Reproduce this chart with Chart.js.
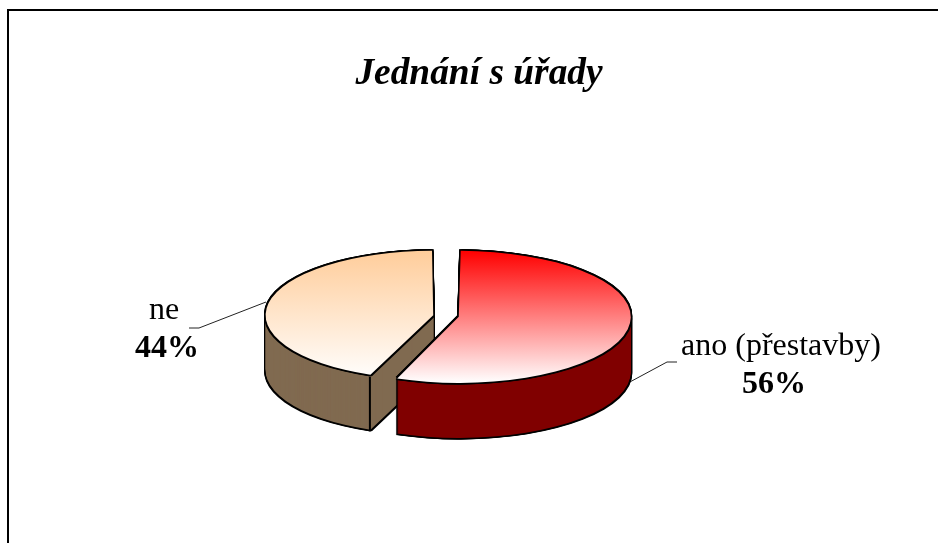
<!DOCTYPE html>
<html><head><meta charset="utf-8">
<style>html,body{margin:0;padding:0;background:#fff;overflow:hidden}
#wrap{position:absolute;left:0;top:0;width:938px;height:543px;overflow:hidden}
#frame{position:absolute;left:7px;top:9px;width:960px;height:560px;border:2px solid #000;box-sizing:border-box}
canvas{position:absolute;left:0;top:0}</style>
<script src="https://cdn.jsdelivr.net/npm/chart.js@4"></script>
</head><body>
<div id="wrap"><div id="frame"></div><canvas id="c" width="938" height="543"></canvas></div>
<script>
const titleText = 'Jednání s úřady';
const categories = ['ano (přestavby)', 'ne'];
const values = [56, 44];
const topColors = ['#ff0000', '#ffcc99'];
const sideColors = ['#800000', '#806a50'];
const SERIF = '"Liberation Serif","Times New Roman",serif';

const TILT = 0.384, DEPTH = 55, OFFSET = 12, RADIUS = 160, CY = 316;
const sliceCX = [447, 445];
const labelPos = [{x:781,bx:774,y1:347,y2:385,line:[[628,383],[667,362],[677,362]]},
                  {x:164,bx:167,y1:311,y2:349,line:[[266,302],[199,328],[189,328]]}];

function project(ctx, arc, i, dx, dy){
  ctx.translate(sliceCX[i] + dx, CY + dy);
  ctx.scale(1, TILT);
  ctx.translate(-arc.x, -arc.y);
}
function withOpts(arc, over, fn){
  const o = arc.options;
  arc.options = {
    offset:o.offset, spacing:o.spacing, angle:o.angle, borderRadius:o.borderRadius,
    borderAlign:o.borderAlign, borderWidth:0, borderColor:o.borderColor,
    borderJoinStyle:o.borderJoinStyle, circular:o.circular, backgroundColor:o.backgroundColor,
    borderDash:o.borderDash, borderDashOffset:o.borderDashOffset, selfJoin:o.selfJoin, ...over};
  fn();
  arc.options = o;
}
function stamp(ctx, arc, i, color, dx, dy){
  ctx.save(); project(ctx,arc,i,dx,dy);
  withOpts(arc,{backgroundColor:color},()=>arc.draw(ctx));
  ctx.restore();
}
const E = 1.5;
const pie3d = {
  id:'pie3d',
  beforeDatasetDraw(chart, args){
    const ctx = chart.ctx, arcs = args.meta.data;
    ctx.save();
    categories.forEach((name,i)=>{
      ctx.strokeStyle='#222';ctx.lineWidth=1;ctx.beginPath();
      labelPos[i].line.forEach((p,k)=>k?ctx.lineTo(p[0],p[1]):ctx.moveTo(p[0],p[1]));
      ctx.stroke();
    });
    ctx.restore();
    [1,0].forEach(i=>{
      const arc = arcs[i];
      for(let d=DEPTH+E;d>=-E;d-=1){
        stamp(ctx,arc,i,'#000',-E,d); stamp(ctx,arc,i,'#000',E,d);
      }
      stamp(ctx,arc,i,'#000',0,DEPTH+E);
      for(let d=DEPTH;d>=0;d-=1){ stamp(ctx,arc,i,sideColors[i],0,d); }
      if(i===1){
        const b = arc.startAngle, mid=(arc.startAngle+arc.endAngle)/2;
        const r = arc.outerRadius + OFFSET;
        const px = sliceCX[i] + Math.cos(mid)*OFFSET + Math.cos(b)*r;
        const py = CY + (Math.sin(mid)*OFFSET + Math.sin(b)*r)*TILT;
        ctx.save();ctx.strokeStyle='#000';ctx.lineWidth=2;ctx.beginPath();
        ctx.moveTo(px,py);ctx.lineTo(px,py+DEPTH);ctx.stroke();ctx.restore();
      }
      [[-E,-E],[E,-E],[-E,E],[E,E],[0,E],[0,-E]].forEach(p=>stamp(ctx,arc,i,'#000',p[0],p[1]));
      // top face of each slice is painted here, through the same arc element
      ctx.save(); project(ctx,arc,i,0,0); withOpts(arc,{},()=>arc.draw(ctx)); ctx.restore();
    });
    return false;
  },
  afterDatasetsDraw(chart){
    const ctx = chart.ctx;
    ctx.save();
    categories.forEach((name,i)=>{
      const p = labelPos[i];
      ctx.fillStyle='#000';ctx.textAlign='center';ctx.textBaseline='middle';
      ctx.font='32px '+SERIF;ctx.fillText(name,p.x,p.y1);
      ctx.font='bold 32px '+SERIF;ctx.fillText(values[i]+'%',p.bx,p.y2);
    });
    ctx.restore();
  }
};
new Chart(document.getElementById('c'),{
  type:'pie',
  plugins:[pie3d],
  data:{labels:categories,datasets:[{
    data:values,
    radius:RADIUS,
    offset:OFFSET*4,
    rotation:0,
    borderWidth:0,
    backgroundColor(c){
      const a=c.chart.chartArea; if(!a) return topColors[c.dataIndex];
      const m=(a.top+a.bottom)/2, r=RADIUS+OFFSET;
      const g=c.chart.ctx.createLinearGradient(0,m-r,0,m+r);
      g.addColorStop(0,topColors[c.dataIndex]);g.addColorStop(1,'#ffffff');
      return g;
    }
  }]},
  options:{
    responsive:false,animation:false,
    layout:{padding:{left:20,right:0}},
    plugins:{
      legend:{display:false},tooltip:{enabled:false},
      title:{display:true,text:titleText,color:'#000',
        font:{family:SERIF,size:37.4,weight:'bold',style:'italic'},
        padding:{top:52,bottom:0}}
    }
  }
});
</script></body></html>
